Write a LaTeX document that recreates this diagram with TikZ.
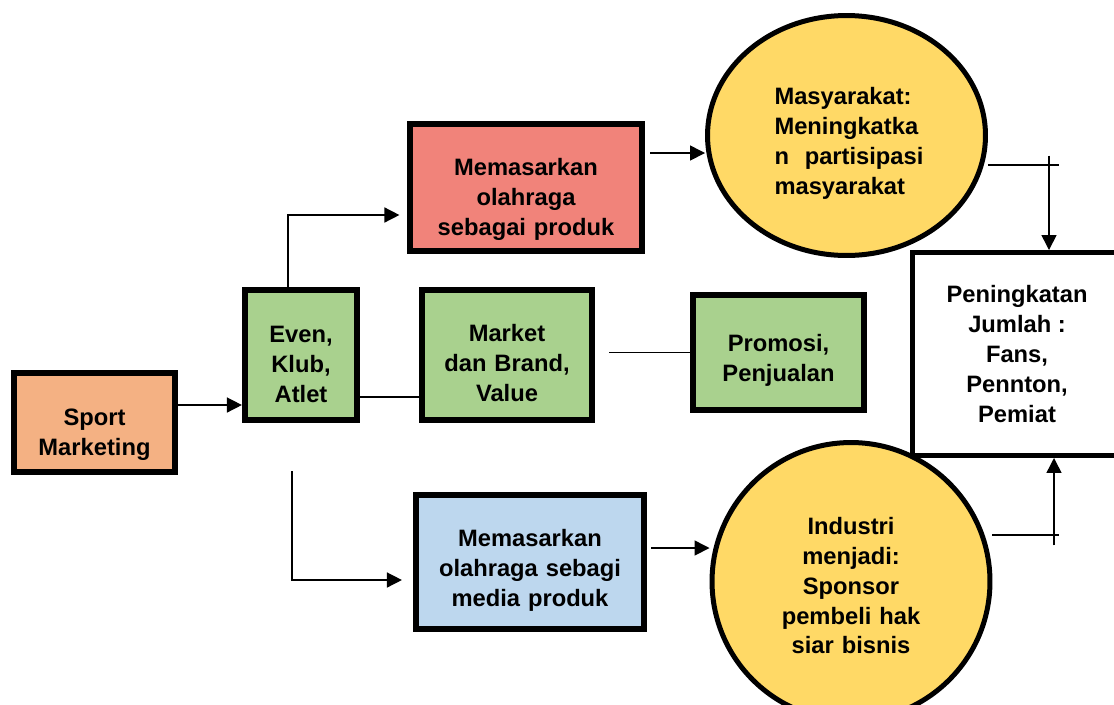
\documentclass[tikz,border=0pt]{standalone}
\usepackage{fontspec}
\setmainfont{Liberation Sans}
\usetikzlibrary{arrows.meta}
\usetikzlibrary{shapes.geometric}

\definecolor{sportorange}{HTML}{F4B183}
\definecolor{evengreen}{HTML}{A9D18E}
\definecolor{prodred}{HTML}{F1837A}
\definecolor{mediablue}{HTML}{BDD7EE}
\definecolor{goalyellow}{HTML}{FFD966}

\begin{document}
\begin{tikzpicture}[
		x=0.02cm, y=-0.02cm,
		>={Triangle[length=0.3cm,width=0.3cm]},
		font=\bfseries\fontsize{13.5}{17}\selectfont,
		stage/.style={draw,line width=0.114cm,align=center,inner sep=0pt},
		goal/.style={ellipse,draw,line width=0.1cm,fill=goalyellow,inner sep=0pt},
		result/.style={draw,line width=0.1cm,fill=white,align=center,inner sep=0pt},
		drop/.style={execute at begin node={\rule{0pt}{#1}}},
		conn/.style={line width=0.03cm},
		arr/.style={conn,->}
	]
	\useasboundingbox (0,0) rectangle (1114,704);

	% Boxes
	\node[stage,fill=sportorange,minimum width=3.23cm,minimum height=1.99cm,text width=3cm,drop=23.5pt] (sport) at (94.5,422.5) {Sport\\Marketing};
	\node[stage,fill=evengreen,minimum width=2.25cm,minimum height=2.61cm,text width=2cm,drop=20pt] (even) at (301,355) {Even,\\Klub,\\Atlet};
	\node[stage,fill=prodred,minimum width=4.65cm,minimum height=2.55cm,text width=4.4cm,drop=23.5pt] (produk) at (526,187.5) {Memasarkan\\olahraga\\sebagai produk};
	\node[stage,fill=evengreen,minimum width=3.41cm,minimum height=2.61cm,text width=3.2cm,drop=19pt] (market) at (507,355) {Market\\dan Brand,\\Value};
	\node[stage,fill=evengreen,minimum width=3.43cm,minimum height=2.31cm,text width=3.2cm,drop=19pt] (promosi) at (778.5,352.5) {Promosi,\\Penjualan};
	\node[stage,fill=mediablue,minimum width=4.57cm,minimum height=2.69cm,text width=4.3cm,drop=19pt] (media) at (530,562) {Memasarkan\\olahraga sebagi\\media produk};

	% Ellipses
	\node[goal,minimum width=5.56cm,minimum height=4.8cm,text width=2.88cm,align=left,drop=19pt] (masy) at (846.5,135.5) {Masyarakat:\\Meningkatka\\\mbox{n\ \ partisipasi}\\masyarakat};
	\node[goal,minimum width=5.56cm,minimum height=5.56cm,text width=3cm,align=center,drop=14.5pt] (industri) at (851,581.5) {Industri\\menjadi:\\Sponsor\\pembeli hak\\siar bisnis};

	% Result
	\node[result,minimum width=4.19cm,minimum height=4.06cm] (hasil) at (1017,354) {Peningkatan\\Jumlah :\\Fans,\\Pennton,\\Pemiat};

	% Connectors
	\coordinate (s1) at ([yshift=0.35cm]sport.east);
	\draw[arr] (s1) -- (s1 -| even.west);
	\draw[arr,shorten >=0.15cm] ([xshift=-0.26cm]even.north) |- ([yshift=-0.55cm]produk.west);
	\draw[arr,shorten <=0.96cm,shorten >=0.22cm] ([xshift=-0.18cm]even.south) |- ([yshift=-0.36cm]media.west);
	\draw[conn] ([yshift=-0.84cm]even.east) -- ([yshift=-0.84cm]market.west);
	\draw[conn,shorten <=0.28cm] (market.east |- promosi.west) -- (promosi.west);
	\coordinate (p1) at ([yshift=0.69cm]produk.east);
	\draw[arr,shorten <=0.1cm] (p1) -- (p1 -| masy.west);
	\coordinate (m1) at ([yshift=0.28cm]media.east);
	\draw[arr,shorten <=0.08cm] (m1) -- (m1 -| industri.west);
	\coordinate (g1) at ([yshift=-0.59cm]masy.east);
	\draw[conn] (g1) -- ++(71.5,0);
	\draw[arr] ([xshift=0.64cm,yshift=1.89cm]hasil.north) -- ([xshift=0.64cm]hasil.north);
	\coordinate (g2) at ([yshift=0.93cm]industri.east);
	\draw[conn] (g2) -- ++(67,0);
	\draw[arr] ([xshift=0.74cm,yshift=-1.75cm]hasil.south) -- ([xshift=0.74cm]hasil.south);
\end{tikzpicture}
\end{document}
